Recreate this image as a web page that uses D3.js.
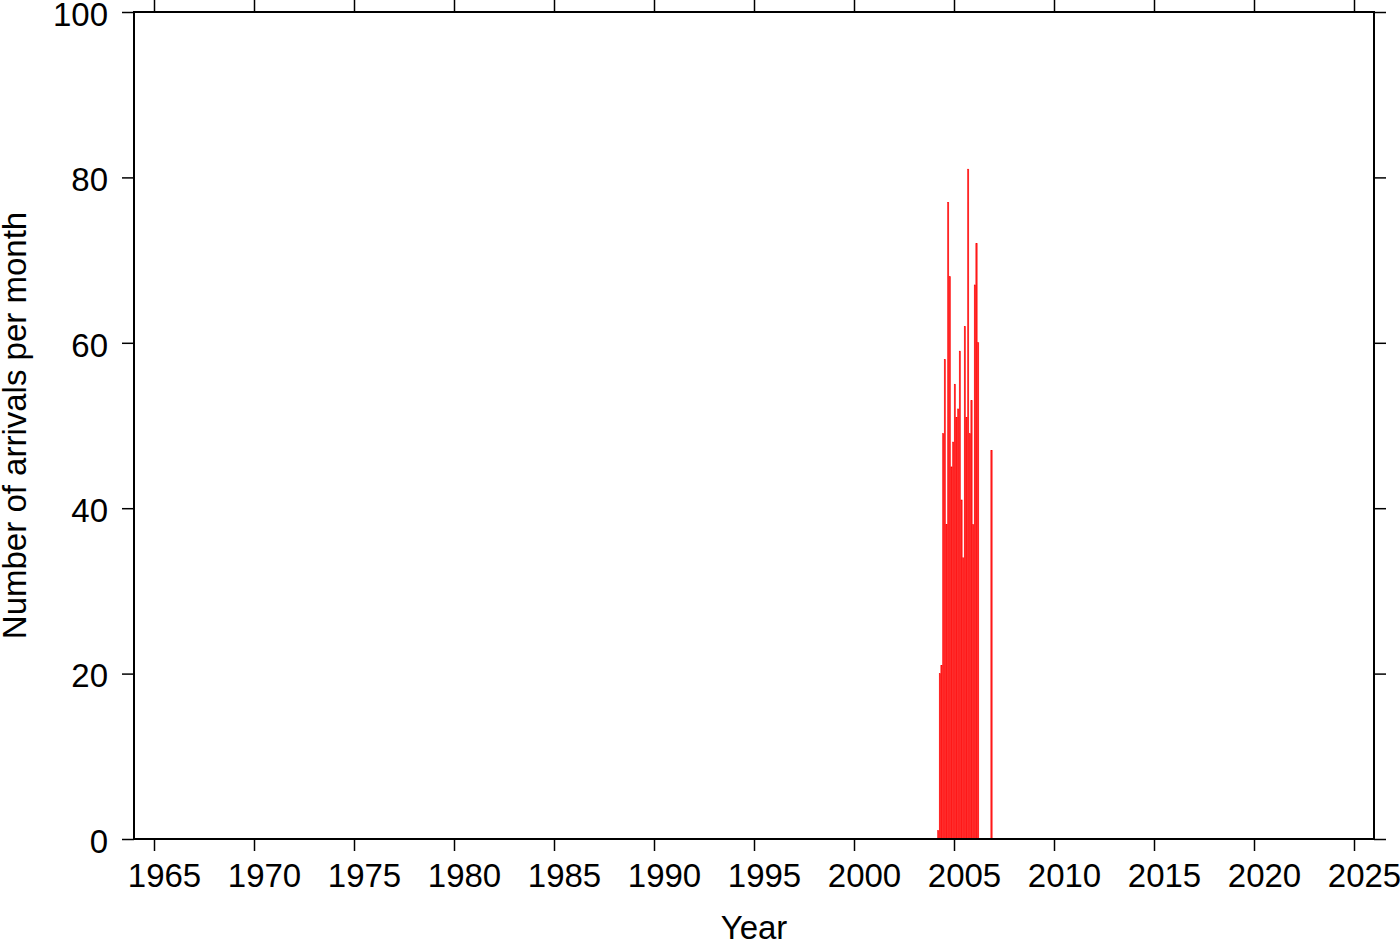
<!DOCTYPE html>
<html>
<head>
<meta charset="utf-8">
<script src="https://cdn.jsdelivr.net/npm/d3@7"></script>
<style>
  html, body { margin: 0; padding: 0; background: #fff; }
  svg { display: block; }
  text { font-family: "Liberation Sans", Arial, Helvetica, sans-serif; }
</style>
</head>
<body>
<svg id="chart" width="1400" height="942"></svg>
<script>
// ---- data ----
const months = [
  "2004-03","2004-04","2004-05","2004-06","2004-07","2004-08","2004-09","2004-10","2004-11","2004-12",
  "2005-01","2005-02","2005-03","2005-04","2005-05","2005-06","2005-07","2005-08","2005-09","2005-10",
  "2005-11","2005-12","2006-01","2006-02","2006-03","2006-11"
];
const counts = [
  1, 20, 21, 49, 58, 38, 77, 68, 45, 48,
  55, 51, 52, 59, 41, 34, 62, 51, 81, 49,
  53, 38, 67, 72, 60, 47
];
const xTickYears = [1965,1970,1975,1980,1985,1990,1995,2000,2005,2010,2015,2020,2025];
const yTickValues = [0,20,40,60,80,100];
const xLabel = "Year";
const yLabel = "Number of arrivals per month";

// ---- layout ----
const pL = 134, pR = 1374, pT = 12, pB = 839;
const FS = "33px";
const svg = d3.select("#chart");
const x = d3.scaleLinear().domain([1964, 2026]).range([pL, pR]);
const y = d3.scaleLinear().domain([0, 100]).range([pB, pT]);

const data = months.map((m, i) => {
  const [yr, mo] = m.split("-").map(Number);
  return { t: yr + (mo - 1) / 12, v: counts[i] };
});

// bars
const bw = x(1964 + 1/12) - x(1964);
svg.append("g").selectAll("rect").data(data).join("rect")
  .attr("x", d => x(d.t) + 0.15)
  .attr("width", bw - 0.3)
  .attr("y", d => y(d.v))
  .attr("height", d => y(0) - y(d.v))
  .attr("fill", "#ff1a1a")
  .attr("stroke", "#ff0000")
  .attr("stroke-width", 0.4);

const tick = 12;
function styleAxis(g) {
  g.select(".domain").remove();
  g.selectAll(".tick line").attr("stroke", "#000").attr("stroke-width", 1.5);
  g.selectAll(".tick text").attr("fill", "#000").style("font-size", FS)
    .style("font-family", "'Liberation Sans', Arial, Helvetica, sans-serif");
}

// bottom axis
const gb = svg.append("g").attr("transform", `translate(0,${pB})`)
  .call(d3.axisBottom(x).tickValues(xTickYears).tickFormat(d3.format("d")).tickSize(tick).tickPadding(13));
styleAxis(gb);
gb.selectAll(".tick text").attr("dx", 10);

// top axis
const gt = svg.append("g").attr("transform", `translate(0,${pT})`)
  .call(d3.axisTop(x).tickValues(xTickYears).tickFormat("").tickSize(tick));
styleAxis(gt);

// left axis
const gl = svg.append("g").attr("transform", `translate(${pL},0)`)
  .call(d3.axisLeft(y).tickValues(yTickValues).tickFormat(d3.format("d")).tickSize(tick).tickPadding(14));
styleAxis(gl);
gl.selectAll(".tick text").attr("dy", "0.4em");

// right axis
const gr = svg.append("g").attr("transform", `translate(${pR},0)`)
  .call(d3.axisRight(y).tickValues(yTickValues).tickFormat("").tickSize(tick));
styleAxis(gr);

// frame
svg.append("rect")
  .attr("x", pL).attr("y", pT)
  .attr("width", pR - pL).attr("height", pB - pT)
  .attr("fill", "none").attr("stroke", "#000").attr("stroke-width", 2);

// axis labels
svg.append("text")
  .attr("x", (pL + pR) / 2).attr("y", 939)
  .attr("text-anchor", "middle").style("font-size", FS).attr("fill", "#000")
  .text(xLabel);

svg.append("text")
  .attr("transform", `translate(26,${(pT + pB) / 2}) rotate(-90)`)
  .attr("text-anchor", "middle").style("font-size", FS).attr("fill", "#000")
  .text(yLabel);
</script>
</body>
</html>
